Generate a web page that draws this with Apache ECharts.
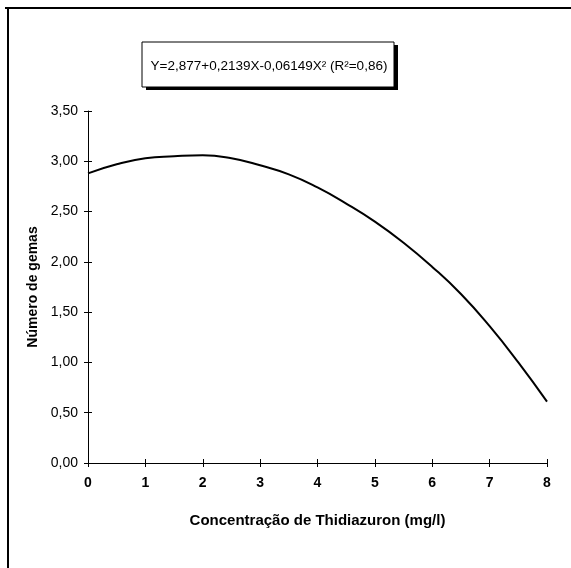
<!DOCTYPE html>
<html>
<head>
<meta charset="utf-8">
<script src="https://cdn.jsdelivr.net/npm/echarts@6/dist/echarts.min.js"></script>
<style>
  html, body { margin: 0; padding: 0; background: #fff; }
  #chart { width: 571px; height: 568px; }
</style>
</head>
<body>
<div id="chart"></div>
<script>
// concentração (mg/l) e número de gemas
const concentracao = [0, 0.5, 1, 1.5, 2, 2.5, 3, 3.5, 4, 4.5, 5, 5.5, 6, 6.5, 7, 7.5, 8];
const gemas = [2.88, 2.97, 3.03, 3.05, 3.06, 3.03, 2.96, 2.87, 2.74, 2.58, 2.40, 2.19, 1.95, 1.68, 1.36, 1.00, 0.61];
const equacao = "Y=2,877+0,2139X-0,06149X² (R²=0,86)";

const chart = echarts.init(document.getElementById("chart"));
const fonte = "Liberation Sans, Arial, sans-serif";
const virgula = (v) => v.toFixed(2).replace(".", ",");

const grid = { left: 88, right: 24, top: 111, bottom: 105 };

chart.setOption({
  animation: false,
  backgroundColor: "#fff",
  grid: [grid, grid],
  xAxis: [
    {
      type: "value", min: 0, max: 8, interval: 1, gridIndex: 0,
      name: "Concentração de Thidiazuron (mg/l)",
      nameLocation: "middle", nameGap: 50,
      nameTextStyle: { fontFamily: fonte, fontWeight: "bold", fontSize: 15, color: "#000" },
      axisLine: { lineStyle: { color: "#000", width: 1 } },
      axisTick: { length: 4, lineStyle: { color: "#000" } },
      axisLabel: { fontFamily: fonte, fontSize: 14, fontWeight: "bold", color: "#000", margin: 13 },
      splitLine: { show: false }
    },
    {
      // ticks para dentro (cruzando o eixo)
      type: "value", min: 0, max: 8, interval: 1, gridIndex: 1, position: "bottom",
      axisLine: { show: false },
      axisTick: { inside: true, length: 4, lineStyle: { color: "#000" } },
      axisLabel: { show: false },
      splitLine: { show: false }
    }
  ],
  yAxis: [
    {
      type: "value", min: 0, max: 3.5, interval: 0.5, gridIndex: 0,
      name: "Número de gemas",
      nameLocation: "middle", nameGap: 47, nameRotate: 90,
      nameTextStyle: { fontFamily: fonte, fontWeight: "bold", fontSize: 14, color: "#000" },
      axisLine: { show: true, lineStyle: { color: "#000", width: 1 } },
      axisTick: { show: true, length: 4, lineStyle: { color: "#000" } },
      axisLabel: { fontFamily: fonte, fontSize: 14, color: "#000", margin: 10, formatter: virgula },
      splitLine: { show: false }
    },
    {
      type: "value", min: 0, max: 3.5, interval: 0.5, gridIndex: 1, position: "left",
      axisLine: { show: false },
      axisTick: { show: true, inside: true, length: 4, lineStyle: { color: "#000" } },
      axisLabel: { show: false },
      splitLine: { show: false }
    }
  ],
  series: [
    {
      type: "line",
      xAxisIndex: 0, yAxisIndex: 0,
      data: concentracao.map((x, i) => [x, gemas[i]]),
      smooth: true,
      showSymbol: false,
      lineStyle: { color: "#000", width: 2 }
    }
  ],
  graphic: [
    // moldura (topo e esquerda)
    { type: "line", shape: { x1: 5, y1: 8, x2: 571, y2: 8 }, style: { stroke: "#000", lineWidth: 2 } },
    { type: "line", shape: { x1: 8, y1: 8, x2: 8, y2: 568 }, style: { stroke: "#000", lineWidth: 2 } },
    // caixa da equação com sombra
    { type: "rect", shape: { x: 146, y: 45, width: 252, height: 45 }, style: { fill: "#000" } },
    { type: "rect", shape: { x: 142, y: 42, width: 252, height: 45 }, style: { fill: "#fff", stroke: "#000", lineWidth: 1 } },
    {
      type: "text", x: 269, y: 66,
      style: {
        text: equacao, fontFamily: fonte, fontSize: 13.5, fill: "#000",
        align: "center", verticalAlign: "middle"
      }
    }
  ]
});
</script>
</body>
</html>
